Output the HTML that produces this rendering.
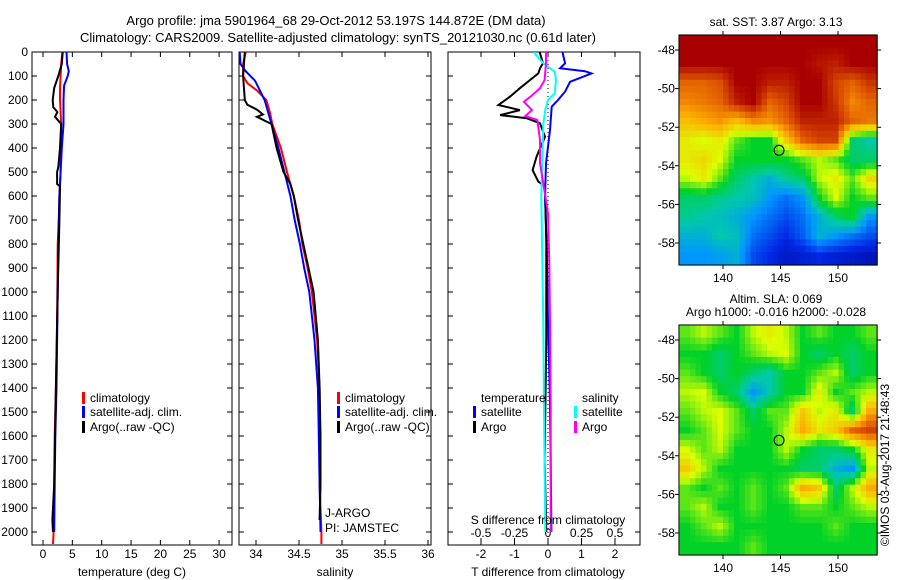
<!DOCTYPE html>
<html><head><meta charset="utf-8"><style>
html,body{margin:0;padding:0;background:#fff;}
svg{display:block;font-family:"Liberation Sans",sans-serif;}
text{font-size:12px;fill:#000;}
</style></head><body>
<svg id="fig" width="900" height="580" viewBox="0 0 900 580" xmlns="http://www.w3.org/2000/svg">
<g id="titles">
<text x="336" y="25" text-anchor="middle" font-size="13" style="font-size:13px">Argo profile: jma 5901964_68 29-Oct-2012 53.197S 144.872E (DM data)</text>
<text x="338" y="42" text-anchor="middle" style="font-size:13px">Climatology: CARS2009. Satellite-adjusted climatology: synTS_20121030.nc (0.61d later)</text>
</g>
<g id="layer"></g>
<text transform="translate(889,465) rotate(-90)" text-anchor="middle">©IMOS 03-Aug-2017 21:48:43</text>
</svg>
<script>
// ---------- data ----------
const depthTicks = [0,100,200,300,400,500,600,700,800,900,1000,1100,1200,1300,1400,1500,1600,1700,1800,1900,2000];
const tempTicks = [0,5,10,15,20,25,30];
const salTicks = [34,34.5,35,35.5,36];
const tdiffTicks = [-2,-1,0,1,2];
const sdiffTicks = [-0.5,-0.25,0,0.25,0.5];

const tClimDepth = [0,50,100,150,200,300,400,500,600,700,800,1000,1200,1400,1600,1800,2000,2050];
const tClim = [3.3,3.1,3.0,2.9,2.9,3.1,3.0,3.0,2.8,2.7,2.5,2.45,2.35,2.2,2.0,1.9,1.8,1.7];
const tSatDepth = [0,50,80,100,140,200,300,400,500,600,800,1000,1200,1400,1600,1800,2000];
const tSat = [4.0,4.1,4.4,4.2,3.6,3.5,3.5,3.2,3.0,2.8,2.6,2.5,2.4,2.3,2.1,2.0,1.9];
const tArgoDepth = [0,50,100,150,200,230,250,270,300,400,480,500,550,560,700,1000,1400,1800,1950,2000];
const tArgo = [3.35,3.2,2.6,1.9,1.65,1.75,2.45,2.05,3.1,2.9,2.6,2.4,2.4,2.9,2.8,2.5,2.2,1.9,1.6,1.7];

const sClimDepth = [0,50,100,130,160,200,250,300,400,500,600,700,800,900,1000,1200,1400,1600,1800,2000,2050];
const sClim = [33.88,33.85,33.85,33.9,34.01,34.12,34.16,34.19,34.29,34.36,34.44,34.5,34.54,34.6,34.65,34.71,34.74,34.74,34.74,34.76,34.76];
const sSatDepth = [0,50,80,120,200,300,400,500,600,700,800,900,1000,1200,1400,1600,1800,2000];
const sSat = [33.81,33.82,33.88,33.99,34.1,34.18,34.26,34.33,34.4,34.45,34.51,34.56,34.62,34.68,34.72,34.73,34.74,34.75];
const sArgoDepth = [0,100,200,220,240,260,270,300,400,500,550,600,700,800,900,1000,1200,1400,1600,1800,1950];
const sArgo = [33.87,33.85,33.87,33.9,34.01,34.08,34.01,34.18,34.24,34.32,34.4,34.44,34.49,34.55,34.61,34.67,34.72,34.74,34.75,34.75,34.74];

const dTSatDepth = [0,5,47,68,80,89,103,124,165,200,228,325,464,603,800,1131,1400,1700,2000];
const dTSat = [0.44,0.44,0.51,0.36,1.1,1.3,1.05,0.66,0.51,0.3,0.11,0.06,-0.06,-0.09,-0.04,0.0,0.05,0.08,0.1];
const dTArgoDepth = [0,5,47,68,89,117,151,186,221,242,263,276,297,353,436,492,540,561,800,1200,1700,2000];
const dTArgo = [-0.24,-0.24,-0.15,-0.24,-0.29,-0.54,-0.84,-1.13,-1.48,-0.84,-1.43,-0.64,-0.24,-0.09,-0.34,-0.46,-0.29,-0.09,-0.05,-0.05,-0.1,-0.05];
const dSSatDepth = [0,5,47,82,117,172,200,242,300,603,1131,1500,2000];
const dSSat = [-0.1,-0.1,-0.035,0.05,0.06,0.05,0.0,-0.02,-0.035,-0.05,-0.035,-0.03,-0.02];
const dSArgoDepth = [0,5,47,117,151,186,207,242,267,283,367,464,547,672,881,1131,1500,2000];
const dSArgo = [-0.015,-0.015,-0.015,-0.025,-0.06,-0.13,-0.18,-0.12,-0.17,-0.08,-0.06,-0.06,-0.035,0.0,0.01,0.015,0.02,0.02];

const latTicks = [-48,-50,-52,-54,-56,-58];
const lonTicks = [140,145,150];
const argoLon = 144.872, argoLat = -53.197;
const sstGrid = [
[1,1,1,1,1,1,1,1,1,1,1,1],
[1,1,1,1,1,1,1,1,0.97,0.95,1,1],
[0.85,0.85,0.88,1,1,0.95,0.95,1,1,0.9,0.85,0.92],
[0.8,0.82,0.85,0.95,1,0.85,0.9,1,1,0.92,0.8,0.85],
[0.72,0.75,0.78,0.72,0.8,0.78,0.85,0.95,0.95,0.95,0.85,0.82],
[0.65,0.62,0.65,0.55,0.5,0.5,0.7,0.85,0.9,0.9,0.45,0.4],
[0.65,0.68,0.62,0.5,0.5,0.5,0.5,0.55,0.6,0.55,0.45,0.45],
[0.6,0.65,0.55,0.45,0.4,0.35,0.42,0.45,0.6,0.65,0.55,0.68],
[0.45,0.45,0.42,0.4,0.38,0.3,0.25,0.3,0.5,0.62,0.5,0.55],
[0.42,0.4,0.38,0.35,0.3,0.25,0.2,0.25,0.35,0.45,0.5,0.3],
[0.35,0.35,0.4,0.38,0.25,0.2,0.15,0.22,0.35,0.3,0.25,0.2],
[0.3,0.3,0.32,0.35,0.2,0.15,0.1,0.12,0.15,0.12,0.1,0.08]];
const slaGrid = [
[0.55,0.6,0.55,0.5,0.6,0.65,0.6,0.5,0.55,0.5,0.5,0.55],
[0.5,0.5,0.45,0.5,0.55,0.6,0.62,0.5,0.45,0.5,0.45,0.5],
[0.55,0.5,0.45,0.5,0.45,0.4,0.5,0.5,0.55,0.6,0.45,0.5],
[0.6,0.62,0.5,0.45,0.3,0.4,0.5,0.5,0.65,0.5,0.55,0.6],
[0.55,0.6,0.62,0.55,0.45,0.55,0.55,0.7,0.6,0.65,0.45,0.75],
[0.5,0.55,0.62,0.55,0.5,0.5,0.6,0.75,0.65,0.7,0.85,0.9],
[0.62,0.55,0.6,0.5,0.5,0.5,0.6,0.5,0.45,0.45,0.5,0.65],
[0.7,0.6,0.5,0.5,0.5,0.5,0.5,0.45,0.45,0.35,0.3,0.6],
[0.55,0.5,0.55,0.5,0.55,0.5,0.55,0.75,0.7,0.45,0.6,0.75],
[0.55,0.6,0.5,0.5,0.55,0.5,0.5,0.55,0.55,0.5,0.55,0.6],
[0.5,0.55,0.6,0.5,0.5,0.5,0.5,0.5,0.5,0.55,0.5,0.5],
[0.5,0.5,0.5,0.5,0.55,0.5,0.5,0.5,0.5,0.5,0.5,0.5]];

// ---------- helpers ----------
const NS = "http://www.w3.org/2000/svg";
const layer = document.getElementById('layer');
function mk(tag, attrs, parent){const e=document.createElementNS(NS,tag);for(const k in attrs)e.setAttribute(k,attrs[k]);(parent||layer).appendChild(e);return e;}
function txt(x,y,s,anchor,parent){const t=mk('text',{x:x,y:y,'text-anchor':anchor||'start'},parent);t.textContent=s;return t;}

const yTop=52, pxPerM=0.24, yBot=545;
const yD = d => yTop + d*pxPerM;
const xT = t => 43 + t*5.87;
const xS = s => 256 + (s-34)*86;
const xDT = t => 548 + t*33.5;
const xDS = s => 548 + s*134;

function frame(x0,x1,name){
  const r=mk('rect',{x:x0,y:yTop,width:x1-x0,height:yBot-yTop,fill:'none',stroke:'#000','stroke-width':1});
  
  
  // depth ticks inward
  depthTicks.forEach(d=>{
    const l=mk('path',{d:`M${x0} ${yD(d)}h5M${x1} ${yD(d)}h-5`,stroke:'#000','stroke-width':1});
    
    
  });
}
function line(depths,vals,xf,color,name){
  const pts=depths.map((d,i)=>xf(vals[i]).toFixed(1)+','+yD(d).toFixed(1)).join(' ');
  const p=mk('polyline',{points:pts,fill:'none',stroke:color,'stroke-width':2,'stroke-linejoin':'miter'});
  
  
}
function xTicks(ticks,xf,x0,x1,labY,name){
  ticks.forEach(t=>{
    const l=mk('path',{d:`M${xf(t)} ${yTop}v5M${xf(t)} ${yBot}v-5`,stroke:'#000'});
    
    
    const tx=txt(xf(t),labY,String(t),'middle');
    
    
  });
}

// panel 1: temperature
frame(32,232,'temperature-panel');
depthTicks.forEach(d=>{
  const t=txt(28,yD(d)+4,String(d),'end');
  
  
});
xTicks(tempTicks,xT,32,232,558,'temperature');
line(tClimDepth,tClim,xT,'#ff0000','temperature-climatology-line');
line(tSatDepth,tSat,xT,'#0000ff','temperature-satellite-line');
line(tArgoDepth,tArgo,xT,'#000000','temperature-argo-line');
let t1=txt(132,576,'temperature (deg C)','middle');

// panel 2: salinity
frame(239,431,'salinity-panel');
xTicks(salTicks,xS,239,431,558,'salinity');
line(sClimDepth,sClim,xS,'#ff0000','salinity-climatology-line');
line(sSatDepth,sSat,xS,'#0000ff','salinity-satellite-line');
line(sArgoDepth,sArgo,xS,'#000000','salinity-argo-line');
let t2=txt(335,576,'salinity','middle');
let j1=txt(325,517,'J-ARGO');
let j2=txt(325,532,'PI: JAMSTEC');

// panel 3: differences
frame(448,640,'difference-panel');
tdiffTicks.forEach(t=>{
  const l=mk('path',{d:`M${xDT(t)} ${yBot}v-5M${xDT(t)} ${yTop}v5`,stroke:'#000'});
  
  
  const tx=txt(xDT(t),558,String(t),'middle');
  
  
});
sdiffTicks.forEach(t=>{
  const l=mk('path',{d:`M${xDS(t)} 538v6`,stroke:'#000'});
  
  
  const tx=txt(xDS(t),537,String(t),'middle');
  
  
});
let zl=mk('line',{x1:xDT(0),x2:xDT(0),y1:yTop,y2:yBot,stroke:'#000','stroke-dasharray':'1,3'});

line(dTSatDepth,dTSat,xDT,'#0000ff','tdiff-satellite-line');
line(dTArgoDepth,dTArgo,xDT,'#000000','tdiff-argo-line');
line(dSSatDepth,dSSat,xDS,'#00ffff','sdiff-satellite-line');
line(dSArgoDepth,dSArgo,xDS,'#ff00ff','sdiff-argo-line');
let sd=txt(548,524,'S difference from climatology','middle');
let td=txt(548,576,'T difference from climatology','middle');

// legends
function legend(x,y,color,label,name){
  const g=mk('g',{});
  
  
  mk('rect',{x:x,y:y-10,width:3,height:12,fill:color},g);
  txt(x+8,y,label,'start',g);
}
legend(82,402,'#ff0000','climatology','legend-temp-climatology');
legend(82,416,'#0000ff','satellite-adj. clim.','legend-temp-satellite');
legend(82,431,'#000000','Argo(..raw -QC)','legend-temp-argo');
legend(337,402,'#ff0000','climatology','legend-sal-climatology');
legend(337,416,'#0000ff','satellite-adj. clim.','legend-sal-satellite');
legend(337,431,'#000000','Argo(..raw -QC)','legend-sal-argo');
let lt=txt(481,402,'temperature');
let ls=txt(582,402,'salinity');
legend(473,416,'#0000ff','satellite','legend-tdiff-satellite');
legend(473,431,'#000000','Argo','legend-tdiff-argo');
legend(574,416,'#00ffff','satellite','legend-sdiff-satellite');
legend(574,431,'#ff00ff','Argo','legend-sdiff-argo');

// ---------- maps ----------
function jet(v){
  v=Math.max(0,Math.min(1,v));
  const stops=[[0,[0,0,140]],[0.15,[0,40,230]],[0.3,[0,150,255]],[0.4,[0,200,170]],[0.5,[0,210,40]],[0.62,[220,255,0]],[0.75,[255,170,0]],[0.88,[220,80,0]],[1,[168,0,0]]];
  for(let i=1;i<stops.length;i++){if(v<=stops[i][0]){const a=stops[i-1],b=stops[i],f=(v-a[0])/(b[0]-a[0]);return 'rgb('+a[1].map((c,k)=>Math.round(c+(b[1][k]-c)*f)).join(',')+')';}}
  return 'rgb(168,0,0)';
}
function drawMap(grid,oy,name){
  const lonX = lon => 723 + (lon-140)*11.5;
  const latY = lat => oy + 50 + (-48-lat)*19.3;
  const lon0=136.17, lon1=153.4, lat0=-47.22, lat1=-59.14;
  const g=mk('g',{});
  
  
  const R=grid.length, C=grid[0].length, sub=3;
  const sample=(r,c)=>{ // bilinear at fractional cell coordinates
    r=Math.max(0,Math.min(R-1,r));c=Math.max(0,Math.min(C-1,c));
    const r0=Math.floor(r),c0=Math.floor(c),r1=Math.min(R-1,r0+1),c1=Math.min(C-1,c0+1),fr=r-r0,fc=c-c0;
    return grid[r0][c0]*(1-fr)*(1-fc)+grid[r0][c1]*(1-fr)*fc+grid[r1][c0]*fr*(1-fc)+grid[r1][c1]*fr*fc;
  };
  for(let i=0;i<R*sub;i++){for(let j=0;j<C*sub;j++){
    const la=lat0+(lat1-lat0)*i/(R*sub), la2=lat0+(lat1-lat0)*(i+1)/(R*sub);
    const lo=lon0+(lon1-lon0)*j/(C*sub), lo2=lon0+(lon1-lon0)*(j+1)/(C*sub);
    const v=sample((i+0.5)/sub-0.5,(j+0.5)/sub-0.5);
    const c=mk('rect',{x:lonX(lo).toFixed(1),y:latY(la).toFixed(1),width:(lonX(lo2)-lonX(lo)+0.6).toFixed(1),height:(latY(la2)-latY(la)+0.6).toFixed(1),fill:jet(v)},g);
    
    
  }}
  const fr=mk('rect',{x:lonX(lon0),y:latY(lat0),width:lonX(lon1)-lonX(lon0),height:latY(lat1)-latY(lat0),fill:'none',stroke:'#000'},g);
  
  
  latTicks.forEach(l=>{
    mk('path',{d:`M${lonX(lon0)} ${latY(l)}h-4M${lonX(lon1)} ${latY(l)}h4`,stroke:'#000'},g);
    const t=txt(lonX(lon0)-4,latY(l)+4,String(l),'end',g);
    
    
  });
  lonTicks.forEach(l=>{
    mk('path',{d:`M${lonX(l)} ${latY(lat0)}v-4M${lonX(l)} ${latY(lat1)}v4`,stroke:'#000'},g);
    const t=txt(lonX(l),latY(lat1)+17,String(l),'middle',g);
    
    
  });
  const m=mk('circle',{cx:lonX(argoLon),cy:latY(argoLat),r:5,fill:'none',stroke:'#000','stroke-width':1},g);
  
  
}
drawMap(sstGrid,0,'sst-map');
drawMap(slaGrid,290,'sla-map');
let m1=txt(776,26,'sat. SST: 3.87 Argo: 3.13','middle');
let m2=txt(776,303,'Altim. SLA: 0.069','middle');
let m3=txt(776,316,'Argo h1000: -0.016 h2000: -0.028','middle');
</script>
</body></html>
